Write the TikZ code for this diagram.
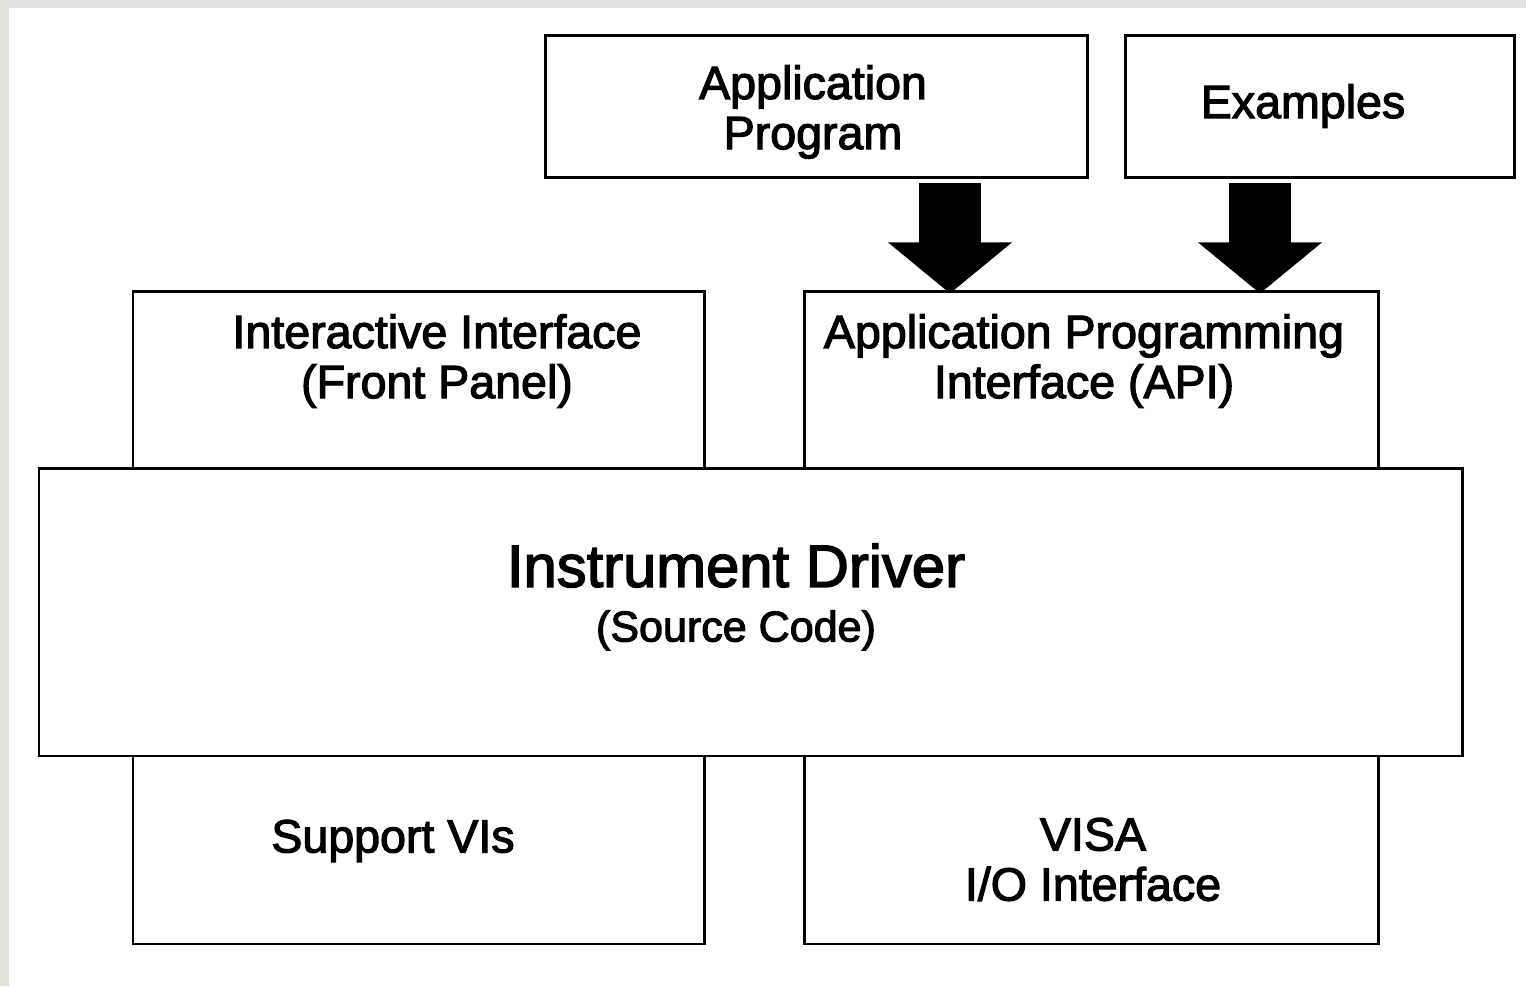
\documentclass[tikz,border=0pt]{standalone}
\usepackage{fontspec}
\setmainfont{Liberation Sans}[FakeBold=2.5]
\usetikzlibrary{arrows.meta}

\definecolor{framegray}{RGB}{227,227,222}

\begin{document}
\begin{tikzpicture}[
  every node/.style={align=center, text=black},
  block/.style={draw=black, fill=white, line width=1.7pt, inner sep=0pt, outer sep=0pt,
    anchor=north west, minimum width=#1},
  boxtext/.style={font=\fontsize{26.5}{28.5}\selectfont, inner sep=0pt},
  fatarrow/.style={line width=1.24cm, black, -{Triangle[length=1.02cm, width=2.42cm]}}]

% Page frame: gray margin left and top
\fill[framegray] (0,0) rectangle (30.52,19.72);
\fill[white] (0.18,0) rectangle (30.52,19.56);
\useasboundingbox (0,0) rectangle (30.52,19.72);

%Top row
\node[block=10.84cm, minimum height=2.84cm] at (10.9,19.0) (app){};
\node[block=7.78cm, minimum height=2.84cm] at (22.5,19.0) (examples){};
\node[boxtext] at (16.26,17.48) (apptext){Application\\Program};
\node[boxtext] at (26.06,17.6) (extext){Examples};

%Interface layer (lower edges hidden by the driver)
\node[block=11.42cm, minimum height=3.54cm] at (2.66,13.88) (front){};
\node[block=11.48cm, minimum height=3.54cm] at (16.08,13.88) (api){};
\node[boxtext] at (8.74,12.5) (fronttext){Interactive Interface\\(Front Panel)};
\node[boxtext] at (21.68,12.5) (apitext){Application Programming\\Interface (API)};

%Bottom layer
\node[block=11.42cm, minimum height=3.76cm] at (2.66,4.6) (support){};
\node[block=11.48cm, minimum height=3.76cm] at (16.08,4.6) (visa){};
\node[boxtext] at (7.86,2.9) (supporttext){Support VIs};
\node[boxtext] at (21.86,2.53) (visatext){VISA\\I/O Interface};

%Driver box on top
\node[block=28.46cm, minimum height=5.74cm] at (0.78,10.34) (driver){};
\node[inner sep=0pt] at (14.72,7.78) (drivertext){%
{\fontsize{34}{36}\selectfont Instrument Driver}\\[12pt]
{\fontsize{24.5}{28}\selectfont (Source Code)}};

% Block arrows down into the API
\coordinate (colA) at (19.0,0); \coordinate (colB) at (25.2,0);
\draw[fatarrow, shorten <=0.1cm, shorten >=-0.03cm] (app.south -| colA) -- (api.north -| colA);
\draw[fatarrow, shorten <=0.1cm, shorten >=-0.03cm] (examples.south -| colB) -- (api.north -| colB);

\end{tikzpicture}
\end{document}
